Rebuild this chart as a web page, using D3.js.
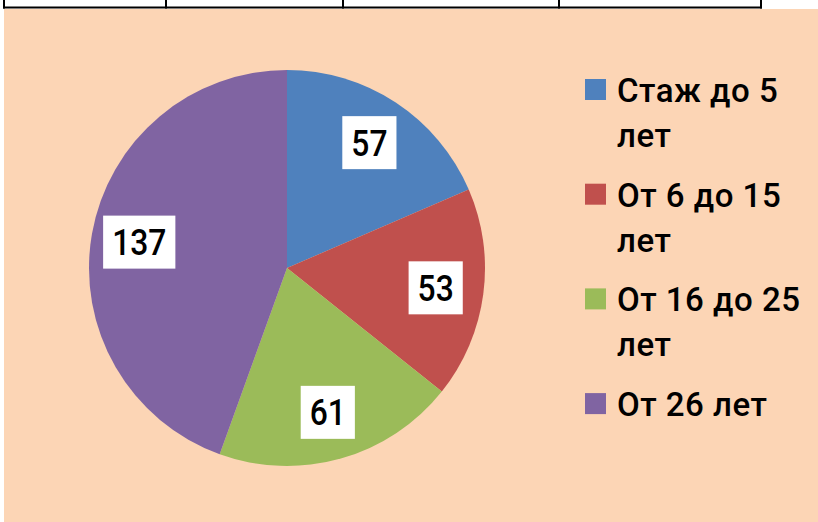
<!DOCTYPE html>
<html lang="ru">
<head>
<meta charset="utf-8">
<title>Стаж</title>
<script src="https://cdn.jsdelivr.net/npm/d3@7"></script>
<style>
  body { margin: 0; background: #fff; }
  text { font-family: Roboto, "Noto Sans", sans-serif; }
</style>
</head>
<body>
<script>
// data
var categories = ["Стаж до 5 лет", "От 6 до 15 лет", "От 16 до 25 лет", "От 26 лет"];
var values = [57, 53, 61, 137];
// how each legend entry breaks into lines
var legendLines = [["Стаж до 5", "лет"], ["От 6 до 15", "лет"], ["От 16 до 25", "лет"], ["От 26 лет"]];
var colors = ["#4F81BD", "#C0504D", "#9BBB59", "#8064A2"];

var W = 818, H = 522;
var svg = d3.select("body").append("svg")
  .attr("width", W)
  .attr("height", H);

// peach chart area
svg.append("rect")
  .attr("x", 4).attr("y", 9)
  .attr("width", W - 4).attr("height", H - 9)
  .attr("fill", "#FCD5B5");

// bit of the table above the chart
var cols = [4, 166, 343, 559, 761];
svg.append("line")
  .attr("x1", 3).attr("x2", 762)
  .attr("y1", 7.5).attr("y2", 7.5)
  .attr("stroke", "#000").attr("stroke-width", 2);
svg.selectAll("line.col").data(cols).enter().append("line")
  .attr("class", "col")
  .attr("x1", function(d){ return d; }).attr("x2", function(d){ return d; })
  .attr("y1", 0).attr("y2", 8.5)
  .attr("stroke", "#000").attr("stroke-width", 2);

// pie
var cx = 287, cy = 268, R = 198;
var pie = d3.pie().sort(null).value(function(d){ return d; });
var arcs = pie(values);
var arc = d3.arc().innerRadius(0).outerRadius(R);
var labelArc = d3.arc().innerRadius(150).outerRadius(150);

var g = svg.append("g").attr("transform", "translate(" + cx + "," + cy + ")");
g.selectAll("path").data(arcs).enter().append("path")
  .attr("d", arc)
  .attr("fill", function(d, i){ return colors[i]; });

// data labels in white boxes (font squeezed a bit, the original is a narrow DIN-ish face)
var sx = 0.86;
var lab = g.selectAll("g.lab").data(arcs).enter().append("g")
  .attr("class", "lab")
  .attr("transform", function(d){ return "translate(" + labelArc.centroid(d) + ")"; });
lab.append("rect").attr("fill", "#fff");
lab.append("text")
  .attr("text-anchor", "middle")
  .attr("transform", "scale(" + sx + ",1)")
  .attr("y", 13)
  .attr("font-size", 37)
  .attr("font-weight", 500)
  .attr("fill", "#000")
  .text(function(d){ return d.data; });
lab.each(function(){
  var t = d3.select(this).select("text").node().getComputedTextLength() * sx;
  d3.select(this).select("rect")
    .attr("x", -t / 2 - 9).attr("y", -26.5)
    .attr("width", t + 18).attr("height", 53);
});

// legend
var lx = 585, ly = 102, entryGap = 104.7, lineGap = 45;
var leg = svg.selectAll("g.leg").data(categories).enter().append("g")
  .attr("class", "leg")
  .attr("transform", function(d, i){ return "translate(" + lx + "," + (ly + i * entryGap) + ")"; });
leg.append("rect")
  .attr("x", 0).attr("y", -23)
  .attr("width", 21).attr("height", 21)
  .attr("fill", function(d, i){ return colors[i]; });
leg.append("text")
  .attr("x", 32)
  .attr("font-size", 33)
  .attr("font-weight", 500)
  .attr("letter-spacing", 0.5)
  .attr("fill", "#000")
  .selectAll("tspan").data(function(d, i){ return legendLines[i]; }).enter().append("tspan")
    .attr("x", 32)
    .attr("y", function(d, j){ return j * lineGap; })
    .text(function(d){ return d; });
</script>
</body>
</html>
